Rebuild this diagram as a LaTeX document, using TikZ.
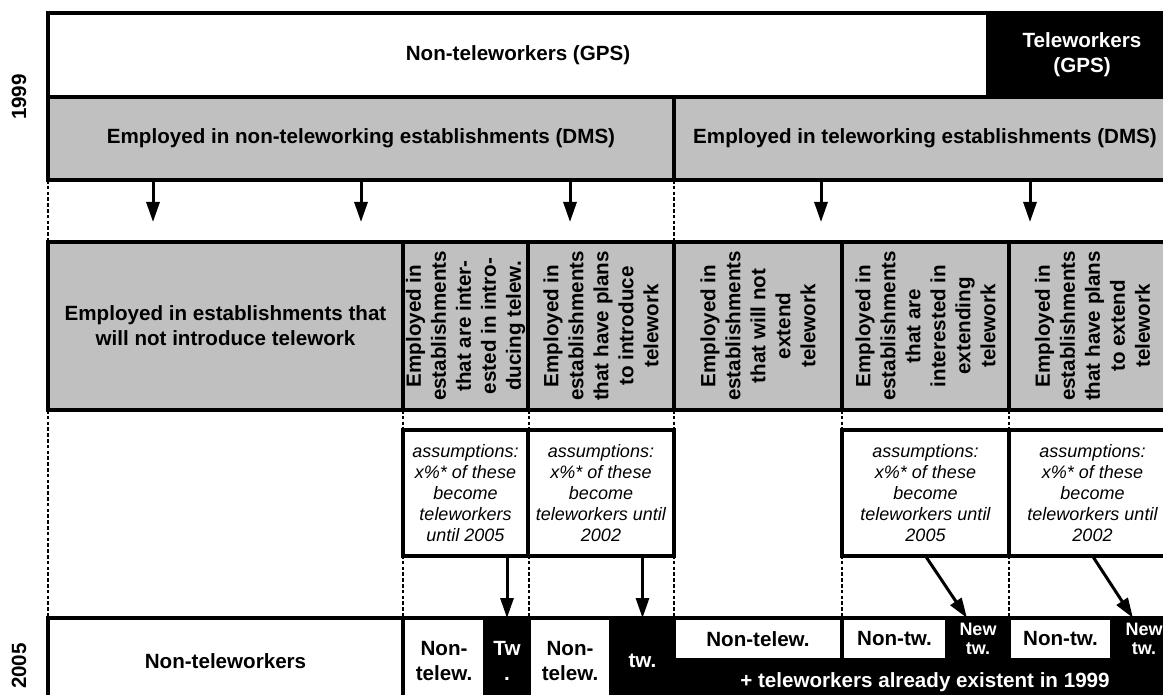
\documentclass[tikz,border=0pt]{standalone}
\usepackage{fontspec}
\setmainfont{Liberation Sans}
\usetikzlibrary{arrows.meta}
\definecolor{dmsgray}{HTML}{C0C0C0}

\begin{document}
\begin{tikzpicture}[x=0.5pt, y=-0.5pt,
    every node/.style={font=\bfseries\fontsize{10.3}{12.5}\selectfont,
                       align=center, inner sep=0pt, outer sep=0pt},
    bx/.style={rectangle, draw, line width=1.6pt},
    wb/.style={bx, fill=white},
    gb/.style={bx, fill=dmsgray},
    kb/.style={bx, fill=black, text=white},
    vt/.style={rotate=90},
    as/.style={wb, font=\itshape\fontsize{9}{10.4}\selectfont},
    sm/.style={font=\bfseries\fontsize{9}{9.4}\selectfont},
    yr/.style={rotate=90},
    e/.style={-{Triangle[length=10pt, width=6.5pt]}, line width=1.5pt},
    guide/.style={dash pattern=on 1.8pt off 1.1pt, line width=0.6pt},
  ]
  \useasboundingbox (0,0) rectangle (1163,695);
  \clip (0,0) rectangle (1163,695);
  % 1999
  \node[yr] (y99) at (19,97) {1999};
  \node[wb, minimum width=470pt, minimum height=42pt] (nontw) at (518,55) {Non-teleworkers (GPS)};
  \node[kb, minimum width=94pt, minimum height=42pt] (tw) at (1082,55) {Teleworkers\\(GPS)};
  \node[gb, minimum width=313pt, minimum height=41.5pt] (estnon) at (361,138.5) {Employed in non-teleworking establishments (DMS)};
  \node[gb, minimum width=251pt, minimum height=41.5pt] (esttw) at (925,138.5) {Employed in teleworking establishments (DMS)};
  % establishments by plans
  \node[gb, minimum width=177.5pt, minimum height=84pt] (c1) at (225.5,326) {Employed in establishments that\\will not introduce telework};
  \node[gb, vt, minimum width=84pt, minimum height=62.5pt] (c2) at (465.5,326) {Employed in\\establishments\\that are inter-\\ested in intro-\\ducing telew.};
  \node[gb, vt, minimum width=84pt, minimum height=73pt] (c3) at (601,326) {Employed in\\establishments\\that have plans\\to introduce\\telework};
  \node[gb, vt, minimum width=84pt, minimum height=84pt] (c4) at (758,326) {Employed in\\establishments\\that will not\\extend\\telework};
  \node[gb, vt, minimum width=84pt, minimum height=83.5pt] (c5) at (925.5,326) {Employed in\\establishments\\that are\\interested in\\extending\\telework};
  \node[gb, vt, minimum width=84pt, minimum height=83.5pt] (c6) at (1092.5,326) {Employed in\\establishments\\that have plans\\to extend\\telework};
  % assumptions
  \node[as, minimum width=62.5pt, minimum height=63pt] (a2) at (465.5,493) {assumptions:\\x\%* of these\\become\\teleworkers\\until 2005};
  \node[as, minimum width=73pt, minimum height=63pt] (a3) at (601,493) {assumptions:\\x\%* of these\\become\\teleworkers until\\2002};
  \node[as, minimum width=83.5pt, minimum height=63pt] (a5) at (925.5,493) {assumptions:\\x\%* of these\\become\\teleworkers until\\2005};
  \node[as, minimum width=83.5pt, minimum height=63pt] (a6) at (1092.5,493) {assumptions:\\x\%* of these\\become\\teleworkers until\\2002};
  % 2005
  \node[yr] (y05) at (19,666) {2005};
  \node[wb, minimum width=177.5pt, minimum height=43pt] (b1) at (225.5,661) {Non-teleworkers};
  \node[wb, minimum width=41pt, minimum height=43pt] (b2a) at (444,661) {Non-\\telew.};
  \node[kb, minimum width=22pt, minimum height=43pt] (b2b) at (507,661) {Tw\\.};
  \node[wb, minimum width=41pt, minimum height=43pt] (b3a) at (570,661) {Non-\\telew.};
  \node[kb, minimum width=31.5pt, minimum height=43pt] (b3b) at (642.5,661) {tw.};
  \node[wb, minimum width=84pt, minimum height=21pt] (b4) at (758,639) {Non-telew.};
  \node[wb, minimum width=52.5pt, minimum height=21pt] (b5a) at (894.5,639) {Non-tw.};
  \node[kb, sm, minimum width=31pt, minimum height=21pt] (b5b) at (978,639) {New\\tw.};
  \node[wb, minimum width=51.5pt, minimum height=21pt] (b6a) at (1060.5,639) {Non-tw.};
  \node[kb, sm, minimum width=32pt, minimum height=21pt] (b6b) at (1144,639) {New\\tw.};
  \node[kb, minimum width=251pt, minimum height=22pt] (bar) at (925,682) {+ teleworkers already existent in 1999};

  \draw[guide] (estnon.south west) -- (estnon.south west |- c1.north);
  \draw[guide] (esttw.south west) -- (esttw.south west |- c1.north);
  \foreach \b in {b1,b2a,b3a,b4,b5a,b6a}
    \draw[guide] (\b.north west |- c1.south) -- (\b.north west);

  \foreach \n/\x in {1/153,2/361,3/570} {
    \coordinate (g\n) at (\x,222);
    \draw[e] (g\n |- estnon.south) -- (g\n);
  }
  \foreach \n/\x in {4/821,5/1030} {
    \coordinate (g\n) at (\x,222);
    \draw[e] (g\n |- esttw.south) -- (g\n);
  }
  \coordinate (n5) at (967,618);
  \coordinate (n6) at (1133,618);
  \draw[e] (a2.south -| b2b.north) -- (b2b.north);
  \draw[e] (a3.south -| b3b.north) -- (b3b.north);
  \draw[e] (a5.south) -- (n5);
  \draw[e] (a6.south) -- (n6);
\end{tikzpicture}
\end{document}
